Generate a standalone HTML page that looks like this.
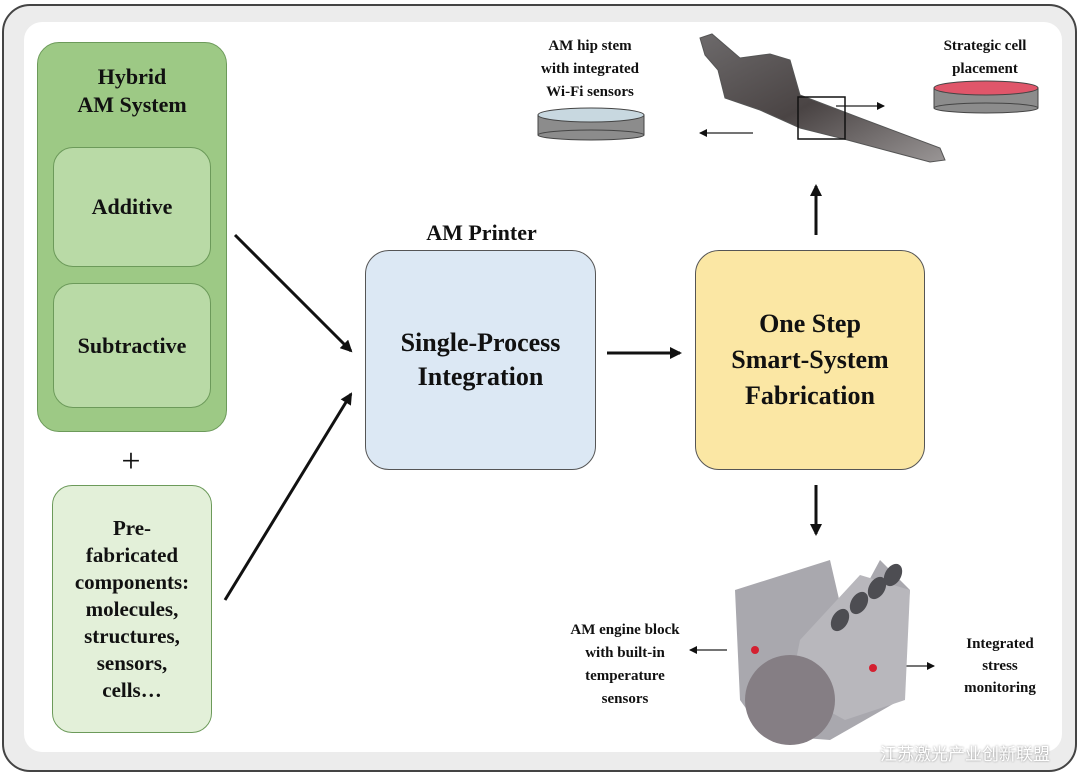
<!DOCTYPE html>
<html><head><meta charset="utf-8"><style>
body{margin:0;width:1080px;height:775px;background:#fff;position:relative;overflow:hidden;font-family:"Liberation Serif",serif;font-weight:bold;color:#111}
.a{position:absolute}
.c{display:flex;align-items:center;justify-content:center;text-align:center}
</style></head><body>
<div class="a" style="left:2px;top:4px;width:1071px;height:764px;border:2px solid #444;border-radius:28px;background:#ececec"></div>
<div class="a" style="left:24px;top:22px;width:1038px;height:730px;background:#fff;border-radius:18px"></div>

<div class="a" style="left:37px;top:42px;width:188px;height:388px;background:#9dc985;border:1.5px solid #6c9a5a;border-radius:22px"></div>
<div class="a c" style="left:37px;top:63px;width:190px;font-size:22px;line-height:28px">Hybrid<br>AM System</div>
<div class="a c" style="left:53px;top:147px;width:156px;height:118px;background:#b9daa6;border:1.5px solid #6c9a5a;border-radius:20px;font-size:22px">Additive</div>
<div class="a c" style="left:53px;top:283px;width:156px;height:123px;background:#b9daa6;border:1.5px solid #6c9a5a;border-radius:20px;font-size:22px">Subtractive</div>
<div class="a c" style="left:111px;top:443px;width:40px;font-size:34px;font-weight:normal">+</div>
<div class="a c" style="left:52px;top:485px;width:158px;height:246px;background:#e3f0d9;border:1.5px solid #6c9a5a;border-radius:20px;font-size:21px;line-height:27px">Pre-<br>fabricated<br>components:<br>molecules,<br>structures,<br>sensors,<br>cells…</div>

<div class="a c" style="left:365px;top:220px;width:233px;font-size:22px">AM Printer</div>
<div class="a c" style="left:365px;top:250px;width:229px;height:218px;background:#dce8f4;border:1.5px solid #555;border-radius:24px;font-size:26px;line-height:34px">Single-Process<br>Integration</div>
<div class="a c" style="left:695px;top:250px;width:228px;height:218px;background:#fbe7a4;border:1.5px solid #555;border-radius:24px;font-size:26px;line-height:36px">One Step<br>Smart-System<br>Fabrication</div>

<div class="a c" style="left:520px;top:35px;width:140px;font-size:15px;line-height:23px">AM hip stem<br>with integrated<br>Wi-Fi sensors</div>
<div class="a c" style="left:915px;top:35px;width:140px;font-size:15px;line-height:23px">Strategic cell<br>placement</div>
<div class="a c" style="left:540px;top:619px;width:170px;font-size:15px;line-height:23px">AM engine block<br>with built-in<br>temperature<br>sensors</div>
<div class="a c" style="left:935px;top:633px;width:130px;font-size:15px;line-height:22px">Integrated<br>stress<br>monitoring</div>
<div class="a" style="left:880px;top:740px;font-family:'Noto Sans CJK SC',sans-serif;font-weight:normal;font-size:17px;color:#fff;text-shadow:0 0 2px #888">江苏激光产业创新联盟</div>

<svg class="a" style="left:0;top:0" width="1080" height="775">
<defs><marker id="m" markerWidth="8" markerHeight="8" refX="7" refY="4" orient="auto" markerUnits="userSpaceOnUse"><path d="M0,0L8,4L0,8z" fill="#111"/></marker>
<marker id="s" markerWidth="12" markerHeight="12" refX="10" refY="6" orient="auto" markerUnits="userSpaceOnUse"><path d="M0,0L12,6L0,12z" fill="#111"/></marker>
<linearGradient id="g" x1="0" y1="0" x2="1" y2="1"><stop offset="0" stop-color="#6d6a6b"/><stop offset=".5" stop-color="#4a4444"/><stop offset="1" stop-color="#9a9696"/></linearGradient></defs>
<g stroke="#111" stroke-width="3" fill="none">
<line x1="235" y1="235" x2="351" y2="351" marker-end="url(#s)"/>
<line x1="225" y1="600" x2="351" y2="394" marker-end="url(#s)"/>
<line x1="607" y1="353" x2="680" y2="353" marker-end="url(#s)"/>
<line x1="816" y1="235" x2="816" y2="186" marker-end="url(#s)"/>
<line x1="816" y1="485" x2="816" y2="534" marker-end="url(#s)"/>
</g>
<g stroke="#222" stroke-width="1.3">
<line x1="753" y1="133" x2="700" y2="133" marker-end="url(#m)"/>
<line x1="836" y1="106" x2="884" y2="106" marker-end="url(#m)"/>
<line x1="727" y1="650" x2="690" y2="650" marker-end="url(#m)"/>
<line x1="896" y1="666" x2="934" y2="666" marker-end="url(#m)"/>
</g>
<rect x="538" y="115" width="106" height="20" fill="#8c8c8c" stroke="#444"/>
<ellipse cx="591" cy="135" rx="53" ry="5" fill="#8c8c8c" stroke="#444"/>
<ellipse cx="591" cy="115" rx="53" ry="7" fill="#c8d8e0" stroke="#444"/>
<rect x="934" y="88" width="104" height="20" fill="#8c8c8c" stroke="#444"/>
<ellipse cx="986" cy="108" rx="52" ry="5" fill="#8c8c8c" stroke="#444"/>
<ellipse cx="986" cy="88" rx="52" ry="7" fill="#e0566a" stroke="#444"/>
<path d="M700,38 L712,34 L740,58 L770,54 L790,60 L800,95 L860,118 L940,148 L945,160 L930,162 L840,138 L800,128 L760,110 L725,98 L718,70 L705,55z" fill="url(#g)" stroke="#555"/>
<rect x="798" y="97" width="47" height="42" fill="none" stroke="#111" stroke-width="1.5"/>
<path d="M735,590 L830,560 L845,625 L880,560 L910,590 L900,700 L830,740 L765,735 L740,700z" fill="#a9a8ae"/>
<path d="M800,640 L860,575 L910,590 L905,700 L845,720 L790,690z" fill="#b8b7bc"/>
<circle cx="790" cy="700" r="45" fill="#857e84"/>
<g fill="#4d4d52"><ellipse cx="840" cy="620" rx="8" ry="12" transform="rotate(30 840 620)"/><ellipse cx="859" cy="603" rx="8" ry="12" transform="rotate(30 859 603)"/><ellipse cx="877" cy="588" rx="8" ry="12" transform="rotate(30 877 588)"/><ellipse cx="893" cy="575" rx="8" ry="12" transform="rotate(30 893 575)"/></g>
<circle cx="755" cy="650" r="4" fill="#d42030"/><circle cx="873" cy="668" r="4" fill="#d42030"/>
</svg>
</body></html>
